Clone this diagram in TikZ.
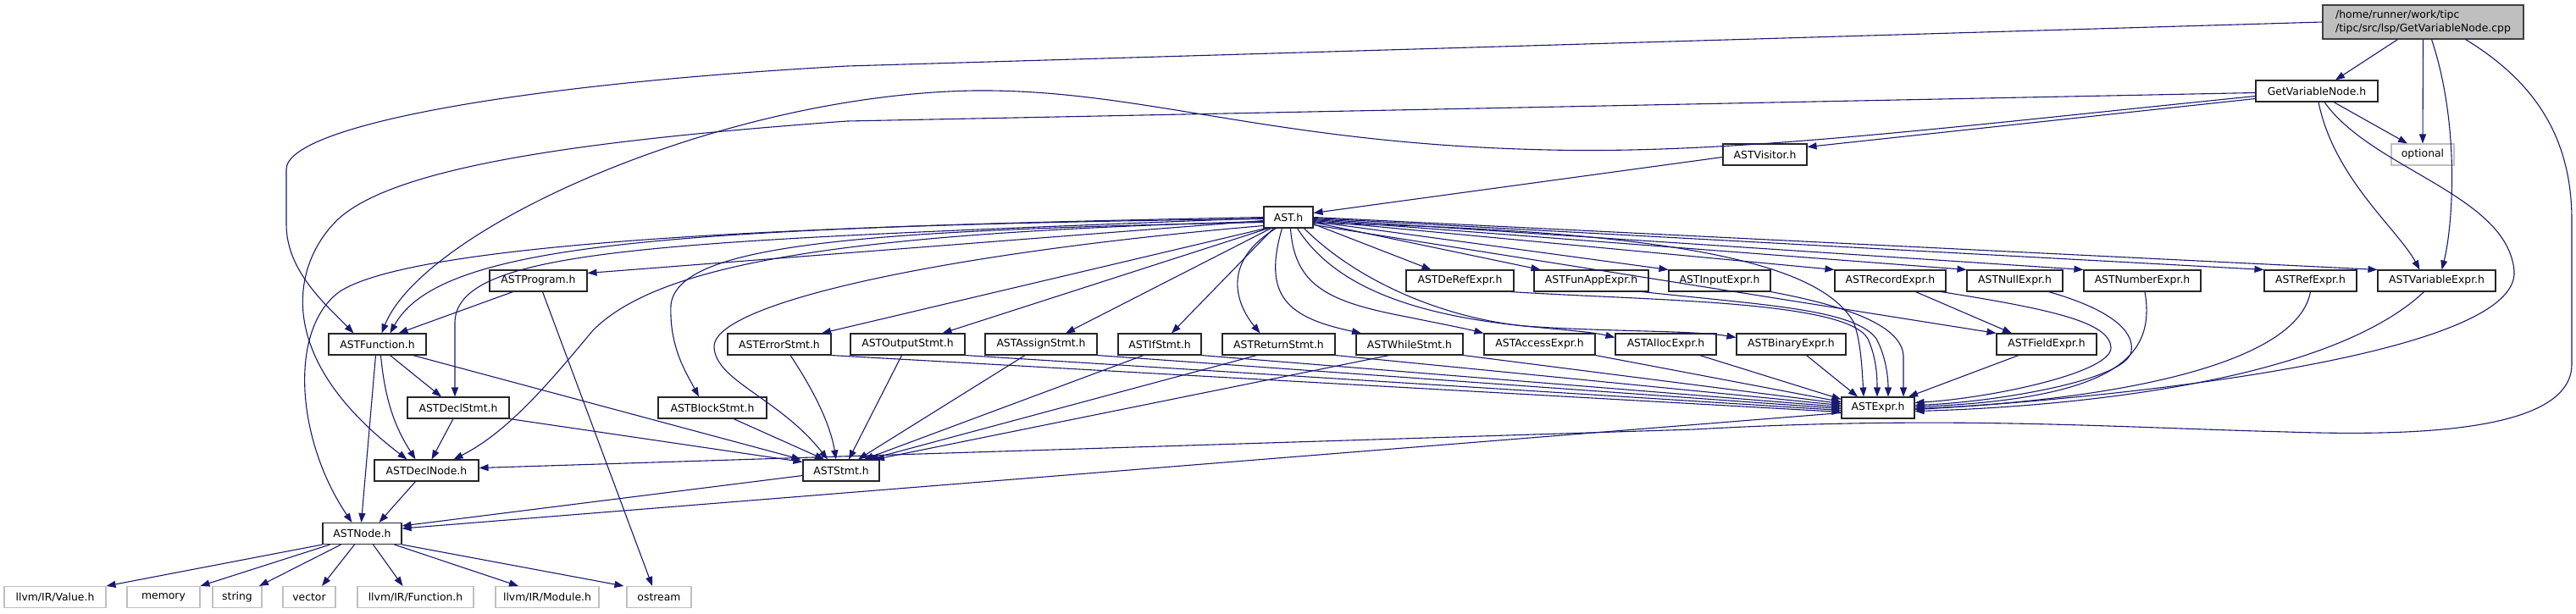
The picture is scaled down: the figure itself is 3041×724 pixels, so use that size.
\documentclass[tikz,border=0pt]{standalone}
\usepackage{fontspec}
\setmainfont{DejaVu Sans}
\usetikzlibrary{arrows.meta}
\definecolor{edgeblue}{HTML}{191970}
\newcommand\dxfont{\fontsize{12.4}{15.5}\selectfont}
\tikzset{
  hbox/.style={draw=black!85, fill=white, line width=1.1pt, minimum height=25pt, inner sep=0pt, font=\dxfont},
  sbox/.style={hbox, draw=black!25},
  mbox/.style={hbox, fill=black!25, draw=black!75, align=left},
  dep/.style={draw=edgeblue, line width=1.1pt, -{Triangle[length=11pt,width=8pt]}},
}
\begin{document}
\begin{tikzpicture}[x=1pt,y=-1pt]
\useasboundingbox (0,0) rectangle (3041,724);
% nodes
\node[mbox, minimum width=237pt, minimum height=40pt] (main) at (2860.5,26) {/home/runner/work/tipc\\/tipc/src/lsp/GetVariableNode.cpp};
\node[hbox, minimum width=144pt] (gvn) at (2735,107.5) {GetVariableNode.h};
\node[sbox, minimum width=74pt] (opt) at (2860,182.5) {optional};
\node[hbox, minimum width=99pt] (vis) at (2083.5,182.5) {ASTVisitor.h};
\node[hbox, minimum width=58pt] (ast) at (1521,256.5) {AST.h};
% row 4
\node[hbox, minimum width=115pt] (prog) at (635.5,331.5) {ASTProgram.h};
\node[hbox, minimum width=127pt] (deref) at (1723.5,331.5) {ASTDeRefExpr.h};
\node[hbox, minimum width=135pt] (funapp) at (1878.5,331.5) {ASTFunAppExpr.h};
\node[hbox, minimum width=120pt] (input) at (2030,331.5) {ASTInputExpr.h};
\node[hbox, minimum width=131pt] (record) at (2231.5,331.5) {ASTRecordExpr.h};
\node[hbox, minimum width=113pt] (null) at (2378.5,331.5) {ASTNullExpr.h};
\node[hbox, minimum width=138pt] (number) at (2529,331.5) {ASTNumberExpr.h};
\node[hbox, minimum width=109pt] (ref) at (2727.5,331.5) {ASTRefExpr.h};
\node[hbox, minimum width=139pt] (var) at (2876.5,331.5) {ASTVariableExpr.h};
% row 5
\node[hbox, minimum width=115pt] (func) at (445.5,406.5) {ASTFunction.h};
\node[hbox, minimum width=122pt] (err) at (920,406.5) {ASTErrorStmt.h};
\node[hbox, minimum width=135pt] (out) at (1071.5,406.5) {ASTOutputStmt.h};
\node[hbox, minimum width=132pt] (assign) at (1229,406.5) {ASTAssignStmt.h};
\node[hbox, minimum width=98pt] (ifs) at (1369,406.5) {ASTIfStmt.h};
\node[hbox, minimum width=133pt] (ret) at (1509.5,406.5) {ASTReturnStmt.h};
\node[hbox, minimum width=126pt] (whl) at (1664,406.5) {ASTWhileStmt.h};
\node[hbox, minimum width=131pt] (access) at (1817.5,406.5) {ASTAccessExpr.h};
\node[hbox, minimum width=119pt] (alloc) at (1966.5,406.5) {ASTAllocExpr.h};
\node[hbox, minimum width=129pt] (binary) at (2114.5,406.5) {ASTBinaryExpr.h};
\node[hbox, minimum width=118pt] (field) at (2416,406.5) {ASTFieldExpr.h};
% row 6
\node[hbox, minimum width=120pt] (dstmt) at (541,481.5) {ASTDeclStmt.h};
\node[hbox, minimum width=128pt] (block) at (841,481.5) {ASTBlockStmt.h};
\node[hbox, minimum width=86pt] (expr) at (2217,481.5) {ASTExpr.h};
% row 7
\node[hbox, minimum width=123pt] (dnode) at (503.5,555.5) {ASTDeclNode.h};
\node[hbox, minimum width=90pt] (stmt) at (993,555.5) {ASTStmt.h};
% row 8
\node[hbox, minimum width=93pt] (anode) at (427.5,630) {ASTNode.h};
% row 9
\node[sbox, minimum width=120pt] (val) at (65,705) {llvm/IR/Value.h};
\node[sbox, minimum width=86pt] (mem) at (193,705) {memory};
\node[sbox, minimum width=58pt] (str) at (280,705) {string};
\node[sbox, minimum width=62pt] (vec) at (365,705) {vector};
\node[sbox, minimum width=137pt] (lfun) at (490.5,705) {llvm/IR/Function.h};
\node[sbox, minimum width=122pt] (lmod) at (646,705) {llvm/IR/Module.h};
\node[sbox, minimum width=76pt] (ost) at (778,705) {ostream};

% main file
\draw[dep] ([xshift=-30pt]main.south) -- ([xshift=22pt]gvn.north);
\draw[dep] (main.south) -- (opt.north);
\draw[dep] ([xshift=10pt]main.south) .. controls (2905,150) and (2895,270) .. ([xshift=6pt]var.north);
\draw[dep] (main.west) -- (1000,78) .. controls (600,100) and (338,150) .. (338,200) -- (338,265) .. controls (338,320) and (385,360) .. ([xshift=-28pt]func.north);
\draw[dep] ([xshift=50pt]main.south) .. controls (2990,95) and (3036,160) .. (3036,260) -- (3036,430) .. controls (3036,510) and (2850,515) .. (2700,510) .. controls (2500,505) and (2300,490) .. (2000,507) -- ([yshift=3pt]dnode.east);

% GetVariableNode.h
\draw[dep] ([yshift=-9pt]gvn.west) -- ([yshift=9pt]vis.east);
\draw[dep] ([xshift=20pt]gvn.south) -- ([xshift=-18pt]opt.north);
\draw[dep] ([xshift=2pt]gvn.south) .. controls (2755,210) and (2830,270) .. ([xshift=-20pt]var.north);
\draw[dep] ([xshift=9pt]gvn.south) .. controls (2800,200) and (2960,230) .. (2968,320) .. controls (2975,420) and (2500,470) .. ([yshift=-2pt]expr.east);
\draw[dep] ([yshift=-6pt]gvn.west) .. controls (2300,150) and (2050,182) .. (1829,177) .. controls (1500,170) and (1350,105) .. (1150,107) .. controls (850,112) and (500,270) .. ([xshift=5pt]func.north);
\draw[dep] ([yshift=-2pt]gvn.west) -- (1000,143) .. controls (700,165) and (470,195) .. (400,258) .. controls (345,310) and (320,420) .. ([xshift=-23pt]dnode.north);

% ASTVisitor.h
\draw[dep] ([yshift=-3pt]vis.west) -- ([yshift=5pt]ast.east);

% AST.h to the left
\draw[dep] ([yshift=-2pt]ast.west) .. controls (900,265) and (480,290) .. (400,345) .. controls (340,390) and (350,520) .. ([xshift=-12pt]anode.north);
\draw[dep] (ast.west) .. controls (800,270) and (520,285) .. ([xshift=15pt]func.north);
\draw[dep] ([yshift=-1pt]ast.west) .. controls (800,285) and (540,290) .. (537,380) -- ([xshift=-4pt]dstmt.north);
\draw[dep] ([yshift=-4pt]ast.west) -- ([yshift=9pt]prog.east);
\draw[dep] ([yshift=-5pt]ast.west) .. controls (1000,275) and (780,310) .. (700,390) .. controls (650,450) and (600,510) .. ([xshift=32pt]dnode.north);
\draw[dep] ([yshift=-6pt]ast.west) .. controls (1000,272) and (800,290) .. (792,360) .. controls (790,410) and (810,440) .. ([xshift=-16pt]block.north);
\draw[dep] ([yshift=-10pt]ast.west) .. controls (1100,300) and (840,360) .. (843,410) .. controls (845,450) and (920,470) .. ([xshift=-16pt]stmt.north);
\draw[dep] ([xshift=3pt]ast.south west) -- ([xshift=50pt]err.north);
\draw[dep] ([xshift=6pt]ast.south west) -- ([xshift=41pt]out.north);
\draw[dep] ([xshift=9pt]ast.south west) -- ([xshift=29pt]assign.north);
\draw[dep] ([xshift=12pt]ast.south west) -- ([xshift=14pt]ifs.north);
\draw[dep] ([xshift=15pt]ast.south west) .. controls (1440,310) and (1460,360) .. ([xshift=-22pt]ret.north);
\draw[dep] ([xshift=22pt]ast.south west) .. controls (1490,350) and (1520,375) .. ([xshift=-57pt]whl.north);
\draw[dep] ([xshift=32pt]ast.south west) .. controls (1528,335) and (1565,355) .. (1650,372) .. controls (1700,382) and (1730,388) .. (access.north west);
\draw[dep] ([xshift=40pt]ast.south west) .. controls (1570,330) and (1650,370) .. (1800,385) .. controls (1850,390) and (1880,392) .. ([yshift=8pt]alloc.west);
\draw[dep] ([xshift=48pt]ast.south west) .. controls (1600,330) and (1700,375) .. (1800,385) .. controls (1900,392) and (2000,390) .. ([yshift=8pt]binary.west);

% AST.h to the right
\draw[dep] ([yshift=-8pt]ast.east) -- ([xshift=-34pt]deref.north);
\draw[dep] ([yshift=-6pt]ast.east) -- ([xshift=-60pt]funapp.north);
\draw[dep] ([yshift=-5pt]ast.east) -- (input.north west);
\draw[dep] ([yshift=-4pt]ast.east) -- (record.north west);
\draw[dep] ([yshift=-3pt]ast.east) -- (null.north west);
\draw[dep] ([yshift=-2pt]ast.east) -- (number.north west);
\draw[dep] ([yshift=-1pt]ast.east) -- (ref.north west);
\draw[dep] (ast.east) -- (var.north west);
\draw[dep] ([yshift=-9pt]ast.east) -- (field.north west);
\draw[dep] ([yshift=-7pt]ast.east) .. controls (2000,272) and (2150,315) .. (2188,380) .. controls (2196,400) and (2198,430) .. ([xshift=-17pt]expr.north);

% into ASTExpr.h
\draw[dep] ([xshift=60pt]deref.south) .. controls (1950,355) and (2180,355) .. (2205,400) .. controls (2214,420) and (2216,440) .. ([xshift=-1pt]expr.north);
\draw[dep] ([xshift=60pt]funapp.south) .. controls (2080,360) and (2190,365) .. (2215,400) .. controls (2226,420) and (2229,445) .. ([xshift=12pt]expr.north);
\draw[dep] (input.south east) .. controls (2200,365) and (2245,390) .. (2247,420) -- ([xshift=30pt]expr.north);
\draw[dep] ([xshift=30pt]record.south) -- ([xshift=-41pt]field.north);
\draw[dep] ([xshift=60pt]record.south) .. controls (2420,365) and (2490,380) .. (2492,410) .. controls (2494,440) and (2350,470) .. ([yshift=6pt]expr.east);
\draw[dep] ([xshift=40pt]null.south) .. controls (2490,365) and (2520,390) .. (2516,415) .. controls (2510,450) and (2350,475) .. ([yshift=3pt]expr.east);
\draw[dep] ([xshift=3pt]number.south) .. controls (2545,420) and (2500,470) .. ([yshift=1pt]expr.east);
\draw[dep] (ref.south) .. controls (2710,440) and (2450,475) .. ([yshift=-1pt]expr.east);
\draw[dep] ([xshift=-15pt]var.south) .. controls (2750,450) and (2450,480) .. ([yshift=-4pt]expr.east);
\draw[dep] ([xshift=-33pt]field.south) -- ([xshift=36pt]expr.north);
\draw[dep] ([xshift=18pt]binary.south) -- ([xshift=-24pt]expr.north);
\draw[dep] ([xshift=40pt]alloc.south) -- ([yshift=10pt]expr.west);
\draw[dep] (access.south east) -- ([yshift=7pt]expr.west);
\draw[dep] (whl.south east) -- ([yshift=5pt]expr.west);
\draw[dep] (ret.south east) -- ([yshift=3pt]expr.west);
\draw[dep] (ifs.south east) -- ([yshift=1pt]expr.west);
\draw[dep] (assign.south east) -- ([yshift=-1pt]expr.west);
\draw[dep] (out.south east) -- ([yshift=-3pt]expr.west);
\draw[dep] (err.south east) -- ([yshift=-5pt]expr.west);

% into ASTStmt.h
\draw[dep] ([xshift=13pt]err.south) .. controls (960,460) and (980,500) .. ([xshift=-6pt]stmt.north);
\draw[dep] ([xshift=-7pt]out.south) -- ([xshift=9pt]stmt.north);
\draw[dep] ([xshift=-19pt]assign.south) -- ([xshift=20pt]stmt.north);
\draw[dep] ([xshift=-19pt]ifs.south) -- ([xshift=27pt]stmt.north);
\draw[dep] ([xshift=-26pt]ret.south) -- ([xshift=33pt]stmt.north);
\draw[dep] ([xshift=-24pt]whl.south) -- ([xshift=40pt]stmt.north);
\draw[dep] ([xshift=25pt]block.south) -- ([xshift=-20pt]stmt.north);
\draw[dep] ([xshift=42pt]func.south) -- ([xshift=-2pt]stmt.north west);
\draw[dep] (dstmt.south east) -- ([yshift=-3pt]stmt.north west);

% into ASTNode.h
\draw[dep] ([yshift=-6pt]stmt.west) -- ([yshift=9pt]anode.east);
\draw[dep] ([yshift=-6pt]expr.west) -- ([yshift=6pt]anode.east);
\draw[dep] ([xshift=-2pt]func.south) -- ([xshift=-1pt]anode.north);
\draw[dep] ([xshift=-13pt]dnode.south) -- ([xshift=20pt]anode.north);

% ASTFunction.h, ASTDeclStmt.h, ASTProgram.h
\draw[dep] ([xshift=4pt]func.south) .. controls (455,480) and (470,510) .. ([xshift=-13pt]dnode.north);
\draw[dep] ([xshift=15pt]func.south) -- ([xshift=-20pt]dstmt.north);
\draw[dep] ([xshift=-6pt]dstmt.south) -- ([xshift=6pt]dnode.north);
\draw[dep] ([xshift=-30pt]prog.south) -- ([xshift=25pt]func.north);
\draw[dep] ([xshift=5pt]prog.south) -- ([xshift=-8pt]ost.north);

% ASTNode.h to system headers
\draw[dep] (anode.south west) -- (val.north east);
\draw[dep] ([xshift=-38pt]anode.south) -- (mem.north east);
\draw[dep] ([xshift=-25pt]anode.south) -- ([xshift=26pt]str.north);
\draw[dep] ([xshift=-9pt]anode.south) -- ([xshift=15pt]vec.north);
\draw[dep] ([xshift=13pt]anode.south) -- ([xshift=-15pt]lfun.north);
\draw[dep] ([xshift=38pt]anode.south) -- ([xshift=-34pt]lmod.north);
\draw[dep] (anode.south east) -- ([xshift=-3pt]ost.north west);
\end{tikzpicture}
\end{document}
